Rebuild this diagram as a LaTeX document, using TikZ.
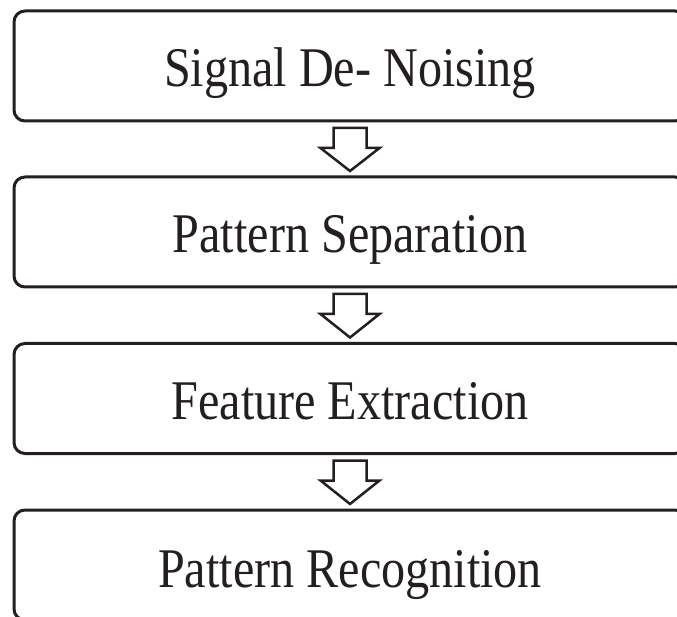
\documentclass[tikz,border=0pt]{standalone}
\usepackage{fontspec}
\setmainfont{Liberation Serif}
\usetikzlibrary{calc}
\definecolor{ink}{HTML}{231F20}
\tikzset{
  stage/.style={draw=ink, line width=3pt, rounded corners=11pt,
    minimum width=672pt, minimum height=110pt, inner sep=0pt, outer sep=0pt},
  stagetext/.style={anchor=base, inner sep=0pt, text=ink,
    font=\fontsize{56}{56}\selectfont},
  flowarrow/.style={draw=ink, line width=2.5pt, fill=white, line join=miter},
}
\newcommand{\narrowtext}[1]{\scalebox{0.86}[1]{#1}}
\begin{document}
\begin{tikzpicture}[x=1pt, y=-1pt]
  \useasboundingbox (0,0) rectangle (677,617);
  \clip (0,0) rectangle (677,617);

  % the four processing stages
  \node[stage] (b1) at (350,66)    {};
  \node[stage] (b2) at (350,232)   {};
  \node[stage] (b3) at (350,398.5) {};
  \node[stage] (b4) at (350,565)   {};

  \node[stagetext] (t1) at (350,87)  {\narrowtext{Signal De- Noising}};
  \node[stagetext] (t2) at (350,253) {\narrowtext{Pattern Separation}};
  \node[stagetext] (t3) at (350,419) {\narrowtext{Feature Extraction}};
  \node[stagetext] (t4) at (350,587) {\narrowtext{Pattern Recognition}};

  % hollow block arrows between consecutive stages
  \foreach \a/\b in {b1/b2, b2/b3, b3/b4} {
    \coordinate (tip) at ($(\b.north)+(0,-6)$);
    \draw[flowarrow]
      ($(\a.south)+(-16.5,7)$) -- ($(\a.south)+(16.5,7)$)
      -- ($(\a.south)+(16.5,27)$) -- ($(\a.south)+(29.5,27)$)
      -- (tip)
      -- ($(\a.south)+(-29.5,27)$) -- ($(\a.south)+(-16.5,27)$)
      -- cycle;
  }
\end{tikzpicture}
\end{document}
